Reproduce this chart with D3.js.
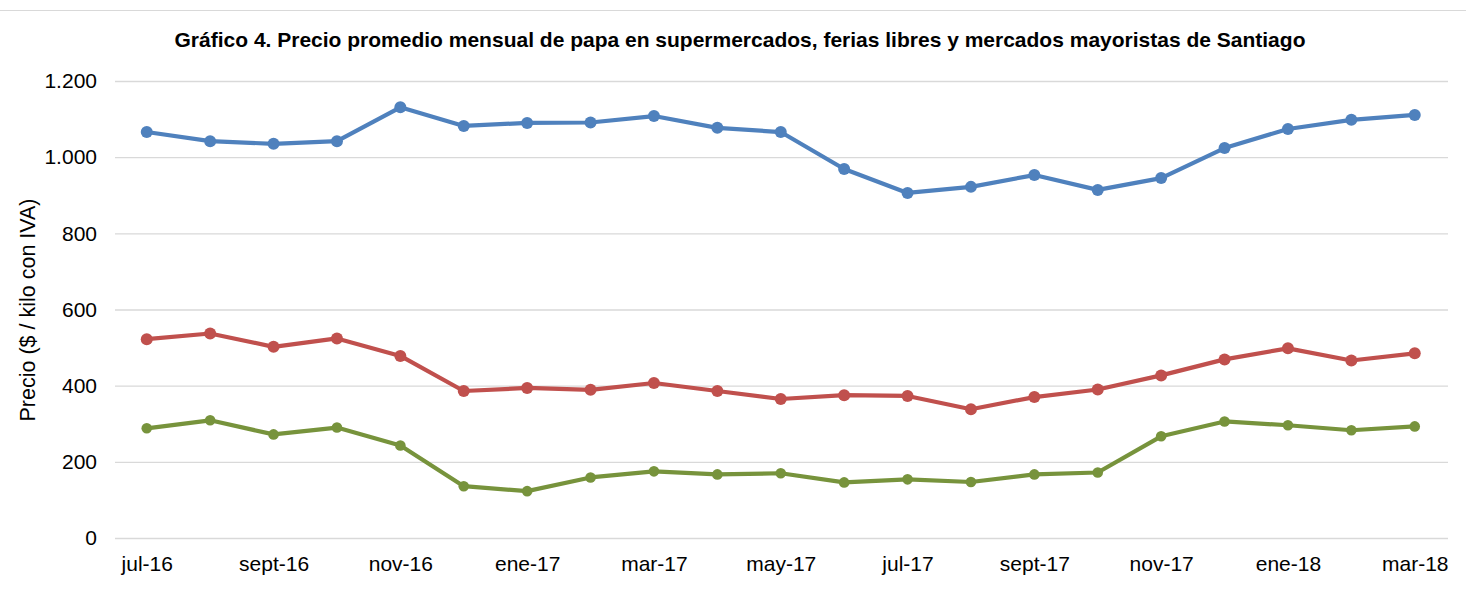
<!DOCTYPE html>
<html><head><meta charset="utf-8">
<script src="https://cdn.jsdelivr.net/npm/d3@7"></script>
<style>body{margin:0;background:#fff;}svg{display:block;font-family:"Liberation Sans",Arial,sans-serif;}</style>
</head><body>
<svg id="c" width="1466" height="609"></svg>
<script>
const months = ["jul-16","ago-16","sept-16","oct-16","nov-16","dic-16","ene-17","feb-17","mar-17","abr-17","may-17","jun-17","jul-17","ago-17","sept-17","oct-17","nov-17","dic-17","ene-18","feb-18","mar-18"];
const tickLabels = ["jul-16","sept-16","nov-16","ene-17","mar-17","may-17","jul-17","sept-17","nov-17","ene-18","mar-18"];
const yTicks = [0,200,400,600,800,1000,1200];
const supermercados = [1066,1042,1035,1042,1131,1082,1090,1091,1108,1077,1066,969,906,922,953,914,945,1024,1074,1098,1111];
const ferias = [522,537,502,524,478,386,394,389,407,386,365,375,373,338,370,390,427,469,498,466,485];
const mayoristas = [288,309,272,290,243,136,123,159,175,167,170,146,154,147,167,172,267,306,296,283,293];
const colors = ["#4F81BD","#C0504D","#77933C"];

const svg = d3.select("#c");
const x = d3.scalePoint().domain(months).range([146.75, 1414.75]);
const y = d3.scaleLinear().domain([0,1200]).range([538,81]);
const L = 115, R = 1448;

svg.append("line").attr("x1",0).attr("x2",1466).attr("y1",10.5).attr("y2",10.5).attr("stroke","#d9d9d9").attr("stroke-width",1);

svg.append("text").attr("x",740).attr("y",47).attr("text-anchor","middle")
  .attr("font-weight","bold").attr("font-size",21).attr("fill","#000")
  .text("Gráfico 4. Precio promedio mensual de papa en supermercados, ferias libres y mercados mayoristas de Santiago");

const fmt = d3.formatLocale({decimal:",",thousands:".",grouping:[3],currency:["$",""]}).format(",.0f");

const yAxis = d3.axisLeft(y).tickValues(yTicks).tickFormat(fmt).tickSize(-(R-L)).tickPadding(18);
const gy = svg.append("g").attr("transform",`translate(${L},0)`).call(yAxis);
gy.select(".domain").remove();
gy.selectAll(".tick line").attr("stroke","#d9d9d9").attr("stroke-width",1.3);
gy.selectAll(".tick text").attr("font-size",21).attr("fill","#000").attr("font-family","Liberation Sans, Arial, sans-serif");

const xAxis = d3.axisBottom(x).tickValues(tickLabels).tickSize(0).tickPadding(18);
const gx = svg.append("g").attr("transform",`translate(0,538)`).call(xAxis);
gx.select(".domain").remove();
gx.selectAll(".tick text").attr("font-size",21).attr("fill","#000").attr("font-family","Liberation Sans, Arial, sans-serif");

svg.append("text").attr("transform","translate(35,310) rotate(-90)").attr("text-anchor","middle")
  .attr("font-size",21.5).attr("fill","#000").text("Precio ($ / kilo con IVA)");

const series = [supermercados, ferias, mayoristas];
const radii = [6,6,5.3];
const line = d3.line().x((d,i)=>x(months[i])).y(d=>y(d));
series.forEach((s,k)=>{
  svg.append("path").datum(s).attr("d",line).attr("fill","none").attr("stroke",colors[k])
    .attr("stroke-width",4.2).attr("stroke-linejoin","round");
  svg.append("g").selectAll("circle").data(s).join("circle")
    .attr("cx",(d,i)=>x(months[i])).attr("cy",d=>y(d)).attr("r",radii[k]).attr("fill",colors[k]);
});
</script>
</body></html>
